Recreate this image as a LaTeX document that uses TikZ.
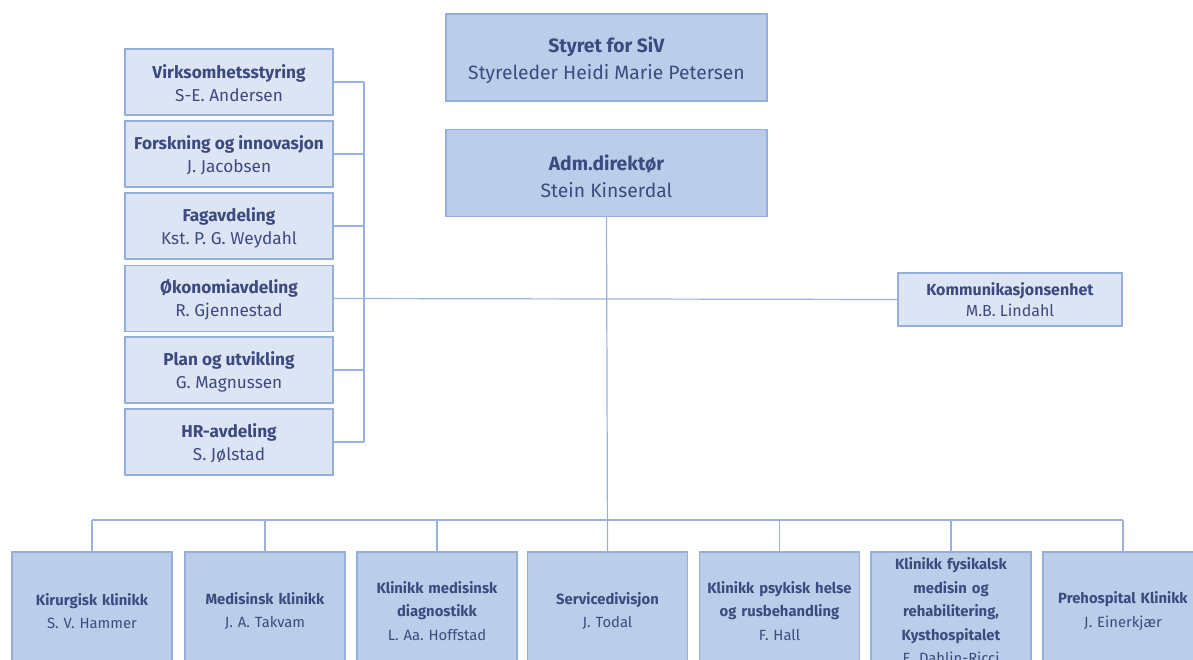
\documentclass[tikz,border=0pt]{standalone}
\usepackage{fontspec}
\setmainfont{Fira Sans}
\frenchspacing
\definecolor{txt}{HTML}{3C4A80}
\definecolor{dark}{HTML}{BCCDE9}
\definecolor{light}{HTML}{DDE5F4}
\definecolor{edge}{HTML}{94AEDD}
\definecolor{ln}{HTML}{9AB2DE}
\newcommand{\tstrut}[1]{\rule{0pt}{#1pt}}
\begin{document}
\begin{tikzpicture}[x=1pt,y=-1pt,
  box/.style={draw=edge, line width=1.2pt, text=txt, align=center, inner sep=0pt},
  topbox/.style={box, fill=dark, minimum width=321, minimum height=87, font=\fontsize{19.3}{27}\selectfont\frenchspacing},
  sidebox/.style={box, fill=light, minimum width=208, minimum height=66, font=\fontsize{17.2}{23}\selectfont\frenchspacing},
  kombox/.style={box, fill=light, minimum width=224, minimum height=53, font=\fontsize{16}{21.5}\selectfont\frenchspacing},
  botbox/.style={box, fill=dark, minimum width=160, minimum height=118, text width=158, font=\fontsize{14.8}{23.5}\selectfont\frenchspacing},
  conn/.style={draw=ln, line width=1.2pt}]
\clip (0,0) rectangle (1193,660);
\fill[white] (0,0) rectangle (1193,660);
% top
\node[topbox] (styret) at (606.5,57.5) {\tstrut{22}\textbf{Styret for SiV}\\Styreleder Heidi Marie Petersen};
\node[topbox] (adm) at (606.5,173) {\tstrut{22}\textbf{Adm.direktør}\\Stein Kinserdal};
% staff
\node[sidebox] (v1) at (229,82) {\tstrut{17}\textbf{Virksomhetsstyring}\\S-E. Andersen};
\node[sidebox] (v2) at (229,154) {\tstrut{17}\textbf{Forskning og innovasjon}\\J. Jacobsen};
\node[sidebox] (v3) at (229,226) {\tstrut{17}\textbf{Fagavdeling}\\Kst. P. G. Weydahl};
\node[sidebox] (v4) at (229,298.5) {\tstrut{17}\textbf{Økonomiavdeling}\\R. Gjennestad};
\node[sidebox] (v5) at (229,370) {\tstrut{17}\textbf{Plan og utvikling}\\G. Magnussen};
\node[sidebox] (v6) at (229,442) {\tstrut{17}\textbf{HR-avdeling}\\S. Jølstad};
\node[kombox] (kom) at (1010,299.5) {\textbf{Kommunikasjonsenhet}\\M.B. Lindahl};
% clinics
\node[botbox] (b1) at (92,611) {\textbf{Kirurgisk klinikk}\\S. V. Hammer};
\node[botbox] (b2) at (265,611) {\textbf{Medisinsk klinikk}\\J. A. Takvam};
\node[botbox] (b3) at (437,611) {\textbf{Klinikk medisinsk}\\\textbf{diagnostikk}\\L. Aa. Hoffstad};
\node[botbox] (b4) at (607.5,611) {\textbf{Servicedivisjon}\\J. Todal};
\node[botbox] (b5) at (779.5,611) {\textbf{Klinikk psykisk helse}\\\textbf{og rusbehandling}\\F. Hall};
\node[botbox] (b6) at (951,611) {\textbf{Klinikk fysikalsk}\\\textbf{medisin og}\\\textbf{rehabilitering,}\\\textbf{Kysthospitalet}\\E. Dahlin-Ricci};
\node[botbox] (b7) at (1123,611) {\textbf{Prehospital Klinikk}\\J. Einerkjær};
% helper coordinates
\coordinate (lbx) at (364,0);
\coordinate (bus) at (0,520);
% connectors
\foreach \n in {v1,v2,v3,v5,v6} \draw[conn] (\n.east) -- (\n.east -| lbx);
\draw[conn] (v1.east -| lbx) -- (v6.east -| lbx);
\draw[conn] (v4.east) -- (kom.west);
\draw[conn] (adm.south) -- (b4.north);
\draw[conn] (b1.north |- bus) -- (b7.north |- bus);
\foreach \n in {b1,b2,b3,b5,b6,b7} \draw[conn] (\n.north) -- (\n.north |- bus);
\end{tikzpicture}
\end{document}
